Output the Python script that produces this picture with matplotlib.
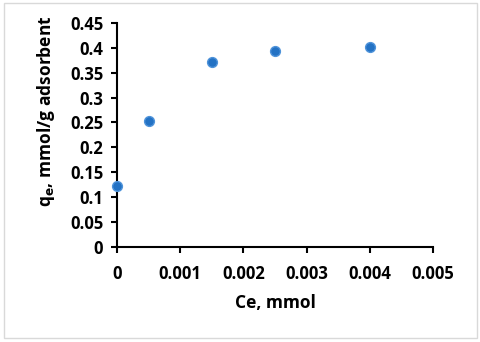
import matplotlib
matplotlib.use("Agg")
import matplotlib.pyplot as plt
from matplotlib.patches import Rectangle

ce = [0.0, 0.0005, 0.0015, 0.0025, 0.004]
qe = [0.122, 0.252, 0.372, 0.393, 0.402]
xticks = [0, 0.001, 0.002, 0.003, 0.004, 0.005]
xticklabels = ["0", "0.001", "0.002", "0.003", "0.004", "0.005"]
yticks = [0, 0.05, 0.1, 0.15, 0.2, 0.25, 0.3, 0.35, 0.4, 0.45]
yticklabels = ["0", "0.05", "0.1", "0.15", "0.2", "0.25", "0.3", "0.35", "0.4", "0.45"]

plt.rcParams['font.family'] = ['Open Sans', 'DejaVu Sans']

fig = plt.figure(figsize=(4.8, 3.42), dpi=100)
fig.patches.append(Rectangle((0.008, 0.012), 0.985, 0.978, transform=fig.transFigure,
                             fill=False, edgecolor='#d9d9d9', linewidth=1.0))
ax = fig.add_axes([0.244, 0.278, 0.658, 0.655])
ax.scatter(ce, qe, s=50, facecolor='#2372C4', edgecolor='#4F93DA', linewidth=1.0, zorder=3, clip_on=False)
ax.set_xlim(0, 0.005)
ax.set_ylim(0, 0.45)
ax.set_xticks(xticks)
ax.set_xticklabels(xticklabels)
ax.set_yticks(yticks)
ax.set_yticklabels(yticklabels)
for s in ['top', 'right']:
    ax.spines[s].set_visible(False)
for s in ['left', 'bottom']:
    ax.spines[s].set_linewidth(1.5)
    ax.spines[s].set_color('black')
ax.tick_params(direction='out', length=4, width=1.5, labelsize=12)
ax.tick_params(axis='x', pad=9)
ax.tick_params(axis='y', pad=6)
for lab in ax.get_xticklabels() + ax.get_yticklabels():
    lab.set_fontweight('bold')
ax.set_xlabel('Ce, mmol', fontsize=12.5, fontweight='bold')
ax.xaxis.set_label_coords(0.5, -0.212)
ax.set_ylabel(r'q$_\mathbf{e}$, mmol/g adsorbent', fontsize=12.5, fontweight='bold')
ax.yaxis.set_label_coords(-0.19, 0.607)
fig.savefig('out.png', dpi=100)
